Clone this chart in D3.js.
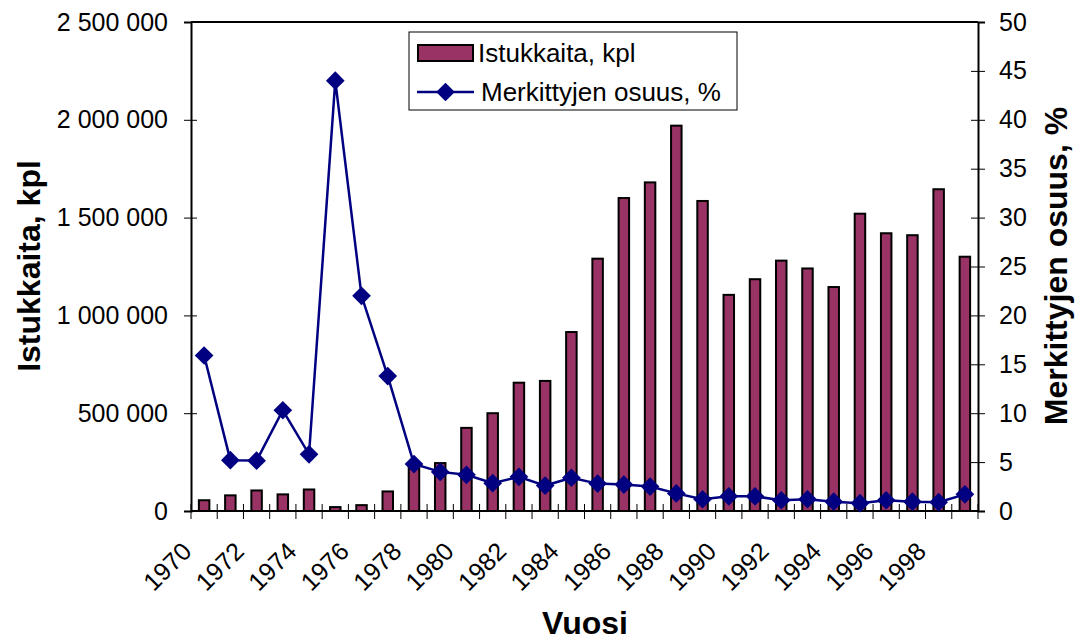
<!DOCTYPE html>
<html>
<head>
<meta charset="utf-8">
<script src="https://cdn.jsdelivr.net/npm/d3@7"></script>
<style>
  body { margin: 0; background: #fff; }
  svg { display: block; font-family: "Liberation Sans", Arial, sans-serif; }
</style>
</head>
<body>
<svg id="chart" width="1080" height="643"></svg>
<script>
// Data
const years = d3.range(1970, 2000);
const istukkaita = [55000, 80000, 105000, 85000, 110000, 20000, 30000, 100000, 220000, 245000,
  425000, 500000, 656000, 665000, 915000, 1290000, 1600000, 1680000, 1970000, 1585000,
  1105000, 1185000, 1280000, 1240000, 1145000, 1520000, 1420000, 1410000, 1645000, 1300000];
const merkittyjen = [15.9, 5.2, 5.15, 10.3, 5.8, 44.0, 22.0, 13.8, 4.8, 4.0,
  3.7, 2.85, 3.5, 2.6, 3.4, 2.8, 2.7, 2.5, 1.8, 1.2,
  1.5, 1.5, 1.1, 1.2, 0.95, 0.8, 1.1, 0.95, 0.9, 1.7];
const leftTicks = [0, 500000, 1000000, 1500000, 2000000, 2500000];
const rightTicks = d3.range(0, 51, 5);
const yearLabels = years.filter(y => y % 2 === 0);

const svg = d3.select('#chart');
const plot = { left: 191, right: 978, top: 22, bottom: 511 };

const x = d3.scaleBand()
  .domain(years)
  .range([plot.left, plot.right])
  .paddingInner(0.6)
  .paddingOuter(0.3);
const yL = d3.scaleLinear().domain([0, 2500000]).range([plot.bottom, plot.top]);
const yR = d3.scaleLinear().domain([0, 50]).range([plot.bottom, plot.top]);
const cx = d => x(d) + x.bandwidth() / 2;

const fmt = v => d3.format(',')(v).replace(/,/g, ' ');

// bars
svg.append('g').selectAll('rect')
  .data(years)
  .join('rect')
  .attr('x', d => x(d))
  .attr('y', (d, i) => yL(istukkaita[i]))
  .attr('width', x.bandwidth())
  .attr('height', (d, i) => plot.bottom - yL(istukkaita[i]))
  .attr('fill', '#993366')
  .attr('stroke', '#000')
  .attr('stroke-width', 2);

// top frame line
svg.append('line')
  .attr('x1', plot.left).attr('x2', plot.right)
  .attr('y1', plot.top).attr('y2', plot.top)
  .attr('stroke', '#000').attr('stroke-width', 2);

// left axis
const gL = svg.append('g')
  .attr('transform', `translate(${plot.left},0)`)
  .call(d3.axisLeft(yL).tickValues(leftTicks).tickFormat(fmt).tickSize(7).tickPadding(16));
gL.select('.domain').attr('stroke-width', 2);
gL.selectAll('.tick line').attr('x2', -7).attr('x1', 6);
gL.selectAll('.tick text').attr('font-size', 25).attr('fill', '#000');

// right axis
const gR = svg.append('g')
  .attr('transform', `translate(${plot.right},0)`)
  .call(d3.axisRight(yR).tickValues(rightTicks).tickSize(7).tickPadding(14));
gR.select('.domain').attr('stroke-width', 2);
gR.selectAll('.tick line').attr('x2', 7).attr('x1', -7);
gR.selectAll('.tick text').attr('font-size', 25).attr('fill', '#000');

// x axis: ticks on category boundaries
const gX = svg.append('g');
gX.append('line')
  .attr('x1', plot.left).attr('x2', plot.right)
  .attr('y1', plot.bottom).attr('y2', plot.bottom)
  .attr('stroke', '#000').attr('stroke-width', 2);
const step = x.step();
gX.selectAll('line.tk')
  .data(d3.range(years.length + 1))
  .join('line')
  .attr('class', 'tk')
  .attr('x1', i => plot.left + i * step)
  .attr('x2', i => plot.left + i * step)
  .attr('y1', plot.bottom - 7)
  .attr('y2', plot.bottom + 8)
  .attr('stroke', '#000');
gX.selectAll('text')
  .data(yearLabels)
  .join('text')
  .attr('transform', d => `translate(${cx(d) - 11},${plot.bottom + 42}) rotate(-45)`)
  .attr('text-anchor', 'end')
  .attr('font-size', 25)
  .text(d => d);

// line series
const line = d3.line()
  .x(d => cx(d))
  .y((d, i) => yR(merkittyjen[i]));
svg.append('path')
  .datum(years)
  .attr('d', line)
  .attr('fill', 'none')
  .attr('stroke', '#000080')
  .attr('stroke-width', 2.5);

const diamond = d3.symbol().type(d3.symbolSquare).size(175);
svg.append('g').selectAll('path')
  .data(years)
  .join('path')
  .attr('d', diamond)
  .attr('transform', (d, i) => `translate(${cx(d)},${yR(merkittyjen[i])}) rotate(45)`)
  .attr('fill', '#000080');

// axis titles
svg.append('text')
  .attr('transform', `translate(40,266) rotate(-90)`)
  .attr('text-anchor', 'middle')
  .attr('font-size', 32).attr('font-weight', 'bold')
  .text('Istukkaita, kpl');
svg.append('text')
  .attr('transform', `translate(1067,266) rotate(-90)`)
  .attr('text-anchor', 'middle')
  .attr('font-size', 32).attr('font-weight', 'bold')
  .text('Merkittyjen osuus, %');
svg.append('text')
  .attr('x', 585).attr('y', 634)
  .attr('text-anchor', 'middle')
  .attr('font-size', 32).attr('font-weight', 'bold')
  .text('Vuosi');

// legend
const lg = svg.append('g');
lg.append('rect')
  .attr('x', 409).attr('y', 32).attr('width', 328).attr('height', 78)
  .attr('fill', '#fff').attr('stroke', '#000').attr('stroke-width', 1);
lg.append('rect')
  .attr('x', 418).attr('y', 45).attr('width', 55).attr('height', 16)
  .attr('fill', '#993366').attr('stroke', '#000').attr('stroke-width', 2);
lg.append('text')
  .attr('x', 478).attr('y', 62).attr('font-size', 26)
  .text('Istukkaita, kpl');
lg.append('line')
  .attr('x1', 417).attr('x2', 474).attr('y1', 92).attr('y2', 92)
  .attr('stroke', '#000080').attr('stroke-width', 2.5);
lg.append('path')
  .attr('d', diamond)
  .attr('transform', 'translate(445.5,92) rotate(45)')
  .attr('fill', '#000080');
lg.append('text')
  .attr('x', 481).attr('y', 101).attr('font-size', 26)
  .text('Merkittyjen osuus, %');
</script>
</body>
</html>
